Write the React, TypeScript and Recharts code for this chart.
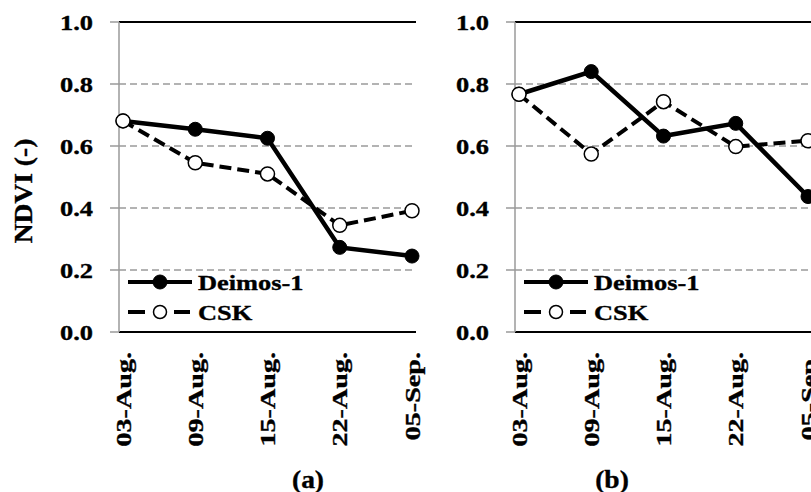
import React from 'react';
import { LineChart, Line, XAxis, YAxis, CartesianGrid, Legend, ReferenceLine } from 'recharts';

// Acquisition dates (x categories)
const dates = ['03-Aug.', '09-Aug.', '15-Aug.', '22-Aug.', '05-Sep.'];

// NDVI series, panel (a)
const deimosA = [0.681, 0.654, 0.625, 0.273, 0.245];
const cskA = [0.681, 0.546, 0.51, 0.344, 0.391];

// NDVI series, panel (b)
const deimosB = [0.767, 0.84, 0.632, 0.673, 0.437];
const cskB = [0.767, 0.574, 0.743, 0.598, 0.617];

const yTicks = [0, 0.2, 0.4, 0.6, 0.8, 1.0];
const seriesNames = ['Deimos-1', 'CSK'];
const captions = ['(a)', '(b)'];
const yTitle = 'NDVI (-)';

const FONT = '"Liberation Serif", "Times New Roman", serif';
const FS = 22;
// light outline so the bold serif text reads heavier
const TEXT_STYLE = { fontFamily: FONT, fontWeight: 'bold' as const, fill: '#000', stroke: '#000', strokeWidth: 0.35 };

const buildRows = (d: number[], c: number[]) =>
  dates.map((date, i) => ({ date, deimos: d[i], csk: c[i] }));

const YTick = (props: any) => {
  const { x, y, payload } = props;
  return (
    <text
      x={0}
      y={0}
      dy="0.35em"
      textAnchor="end"
      transform={`translate(${x},${y}) scale(1.2,1)`}
      fontSize={FS}
      {...TEXT_STYLE}
    >
      {Number(payload.value).toFixed(1)}
    </text>
  );
};

const XTick = (props: any) => {
  const { x, y, payload } = props;
  return (
    <text
      x={0}
      y={0}
      dy="0.35em"
      textAnchor="end"
      transform={`translate(${x},${y}) rotate(-90) scale(1.28,1)`}
      fontSize={FS}
      {...TEXT_STYLE}
    >
      {payload.value}
    </text>
  );
};

const LegendBox = () => (
  <svg width={200} height={62} style={{ overflow: 'visible' }}>
    <line x1={2} y1={16} x2={66} y2={16} stroke="#000" strokeWidth={4} />
    <circle cx={34} cy={16} r={7} fill="#000" stroke="#000" strokeWidth={1} />
    <text x={0} y={0} dy="0.35em" transform="translate(72,16) scale(1.2,1)"
      fontSize={FS} {...TEXT_STYLE}>{seriesNames[0]}</text>
    <line x1={2} y1={46} x2={19} y2={46} stroke="#000" strokeWidth={4} />
    <line x1={48} y1={46} x2={64} y2={46} stroke="#000" strokeWidth={4} />
    <circle cx={34} cy={46} r={6.5} fill="#fff" stroke="#000" strokeWidth={1.5} />
    <text x={0} y={0} dy="0.35em" transform="translate(72,46) scale(1.2,1)"
      fontSize={FS} {...TEXT_STYLE}>{seriesNames[1]}</text>
  </svg>
);

const Panel = ({ deimos, csk, left }: { deimos: number[]; csk: number[]; left: number }) => {
  const rows = buildRows(deimos, csk);
  return (
    <div style={{ position: 'absolute', left, top: 0 }}>
      <LineChart width={440} height={476} data={rows} margin={{ top: 14, right: 32, bottom: 0, left: 0 }}>
        <CartesianGrid
          yAxisId="l"
          vertical={false}
          stroke="#9a9a9a"
          strokeWidth={1.5}
          strokeDasharray="7 4"
        />
        <XAxis
          dataKey="date"
          yAxisId="l"
          interval={0}
          padding={{ left: 4, right: 4 }}
          height={152}
          tickLine={false}
          tickSize={0}
          tickMargin={20}
          axisLine={{ stroke: '#000', strokeWidth: 2 }}
          tick={<XTick />}
        />
        <YAxis
          yAxisId="l"
          width={111}
          domain={[0, 1]}
          ticks={yTicks}
          interval={0}
          tickSize={9}
          tickMargin={17}
          axisLine={{ stroke: '#9a9a9a', strokeWidth: 1.5 }}
          tickLine={{ stroke: '#9a9a9a', strokeWidth: 1.5 }}
          tick={<YTick />}
        />
        <YAxis
          yAxisId="r"
          orientation="right"
          width={0}
          domain={[0, 1]}
          tick={false}
          tickLine={false}
          axisLine={{ stroke: '#000', strokeWidth: 2 }}
        />
        <ReferenceLine yAxisId="l" y={1} stroke="#000" strokeWidth={2} />
        <Legend
          layout="horizontal"
          verticalAlign="middle"
          align="center"
          wrapperStyle={{ left: 118, top: 258, width: 200, height: 62 }}
          content={() => <LegendBox />}
        />
        <Line
          yAxisId="l"
          type="linear"
          dataKey="deimos"
          name={seriesNames[0]}
          stroke="#000"
          strokeWidth={4.5}
          dot={{ r: 7, fill: '#000', stroke: '#000', strokeWidth: 1 }}
          activeDot={false}
          isAnimationActive={false}
        />
        <Line
          yAxisId="l"
          type="linear"
          dataKey="csk"
          name={seriesNames[1]}
          stroke="#000"
          strokeWidth={4}
          strokeDasharray="12 6"
          dot={{ r: 7, fill: '#fff', stroke: '#000', strokeWidth: 1.5, strokeDasharray: '' }}
          activeDot={false}
          isAnimationActive={false}
        />
      </LineChart>
    </div>
  );
};

export default function App() {
  return (
    <div style={{ position: 'fixed', left: 0, top: 0, width: 811, height: 492, overflow: 'hidden', background: '#fff' }}>
      <div style={{ position: 'absolute', left: 8, top: 8, width: 803, height: 484 }}>
        <Panel deimos={deimosA} csk={cskA} left={0} />
        <Panel deimos={deimosB} csk={cskB} left={396} />
        <svg width={803} height={484} style={{ position: 'absolute', left: 0, top: 0, pointerEvents: 'none' }}>
          <text x={0} y={0} dy="0.35em" textAnchor="middle"
            transform="translate(15,183) rotate(-90) scale(1.1,1)"
            fontSize={25} {...TEXT_STYLE}>{yTitle}</text>
          <text x={0} y={0} dy="0.35em" textAnchor="middle"
            transform="translate(300,471) scale(1.1,1)"
            fontSize={25} {...TEXT_STYLE}>{captions[0]}</text>
          <text x={0} y={0} dy="0.35em" textAnchor="middle"
            transform="translate(604,471) scale(1.1,1)"
            fontSize={25} {...TEXT_STYLE}>{captions[1]}</text>
        </svg>
      </div>
    </div>
  );
}
